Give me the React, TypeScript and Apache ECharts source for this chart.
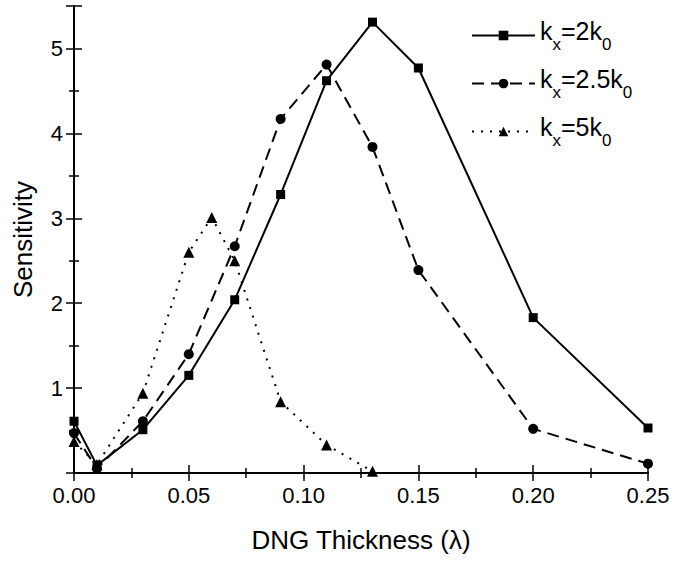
import React, { useEffect, useRef } from "react";
import * as echarts from "echarts";

const xValues = [0.0, 0.01, 0.03, 0.05, 0.07, 0.09, 0.11, 0.13, 0.15, 0.2, 0.25];
const s1Values = [0.61, 0.09, 0.51, 1.15, 2.04, 3.28, 4.62, 5.31, 4.77, 1.83, 0.53];
const s2Values = [0.47, 0.05, 0.61, 1.4, 2.67, 4.17, 4.81, 3.84, 2.39, 0.52, 0.11];
const s3X = [0.0, 0.01, 0.03, 0.05, 0.06, 0.07, 0.09, 0.11, 0.13];
const s3Values = [0.37, 0.1, 0.94, 2.6, 3.01, 2.5, 0.84, 0.33, 0.02];
const seriesNames = ["kx=2k0", "kx=2.5k0", "kx=5k0"];
const legendLabels: Record<string, string> = {
  "kx=2k0": "{a|k}{s|x}{a|=2k}{s|0}",
  "kx=2.5k0": "{a|k}{s|x}{a|=2.5k}{s|0}",
  "kx=5k0": "{a|k}{s|x}{a|=5k}{s|0}",
};

const FONT = "'Liberation Sans', Arial, sans-serif";

export default function App() {
  const ref = useRef<HTMLDivElement>(null);
  useEffect(() => {
    if (!ref.current) return;
    const chart = echarts.init(ref.current, undefined, { renderer: "svg" });
    const axisLine = { show: true, lineStyle: { color: "#000", width: 2 } };
    const tick = { show: true, inside: true, length: 8, lineStyle: { color: "#000", width: 1.5 } };
    const minor = { show: true, splitNumber: 2, length: 5, lineStyle: { color: "#000", width: 1.5 } };
    const pair = (xs: number[], ys: number[]) => xs.map((x, i) => [x, ys[i]]);
    chart.setOption({
      animation: false,
      backgroundColor: "#fff",
      grid: { left: 74, right: 25, top: 6, bottom: 90 },
      legend: {
        orient: "vertical",
        left: 466,
        top: 13,
        itemWidth: 63,
        itemHeight: 12,
        itemGap: 13,
        data: seriesNames,
        formatter: (n: string) => legendLabels[n],
        textStyle: {
          fontFamily: FONT,
          rich: {
            a: { fontSize: 25, fontFamily: FONT, color: "#000", lineHeight: 26, verticalAlign: "top" },
            s: { fontSize: 17, fontFamily: FONT, color: "#000", verticalAlign: "bottom", lineHeight: 35 },
          },
        },
      },
      xAxis: [
        {
          type: "value",
          min: 0,
          max: 0.25,
          interval: 0.05,
          position: "bottom",
          name: "DNG Thickness (λ)",
          nameLocation: "middle",
          nameGap: 54,
          nameTextStyle: { fontFamily: FONT, fontSize: 26, color: "#000" },
          axisLine,
          axisTick: tick,
          minorTick: minor,
          splitLine: { show: false },
          axisLabel: {
            fontFamily: FONT,
            fontSize: 22,
            color: "#000",
            margin: 11,
            formatter: (v: number) => v.toFixed(2),
          },
        },
        {
          type: "value",
          min: 0,
          max: 0.25,
          interval: 0.05,
          position: "top",
          axisLine,
          axisTick: tick,
          minorTick: minor,
          splitLine: { show: false },
          axisLabel: { show: false },
        },
      ],
      yAxis: [
        {
          type: "value",
          min: 0,
          max: 5.5,
          interval: 1,
          position: "left",
          name: "Sensitivity",
          nameLocation: "middle",
          nameGap: 38,
          nameTextStyle: { fontFamily: FONT, fontSize: 26, color: "#000" },
          axisLine,
          axisTick: tick,
          minorTick: minor,
          splitLine: { show: false },
          axisLabel: {
            fontFamily: FONT,
            fontSize: 22,
            color: "#000",
            margin: 11,
            formatter: (v: number) => (v === 0 || v % 1 !== 0 ? "" : String(v)),
          },
        },
        {
          type: "value",
          min: 0,
          max: 5.5,
          interval: 1,
          position: "right",
          axisLine,
          axisTick: tick,
          minorTick: minor,
          splitLine: { show: false },
          axisLabel: { show: false },
        },
      ],
      series: [
        {
          name: seriesNames[0],
          type: "line",
          data: pair(xValues, s1Values),
          symbol: "rect",
          symbolSize: 9,
          itemStyle: { color: "#000" },
          lineStyle: { color: "#000", width: 2, type: "solid" },
          clip: false,
        },
        {
          name: seriesNames[1],
          type: "line",
          data: pair(xValues, s2Values),
          symbol: "circle",
          symbolSize: 10,
          itemStyle: { color: "#000" },
          lineStyle: { color: "#000", width: 2, type: [12, 7] },
          clip: false,
        },
        {
          name: seriesNames[2],
          type: "line",
          data: pair(s3X, s3Values),
          symbol: "triangle",
          symbolSize: 11,
          itemStyle: { color: "#000" },
          lineStyle: { color: "#000", width: 2, type: [2, 7] },
          clip: false,
        },
      ],
    });
    return () => chart.dispose();
  }, []);
  return (
    <div
      ref={ref}
      style={{ position: "absolute", left: 0, top: 0, width: 673, height: 563 }}
    />
  );
}
